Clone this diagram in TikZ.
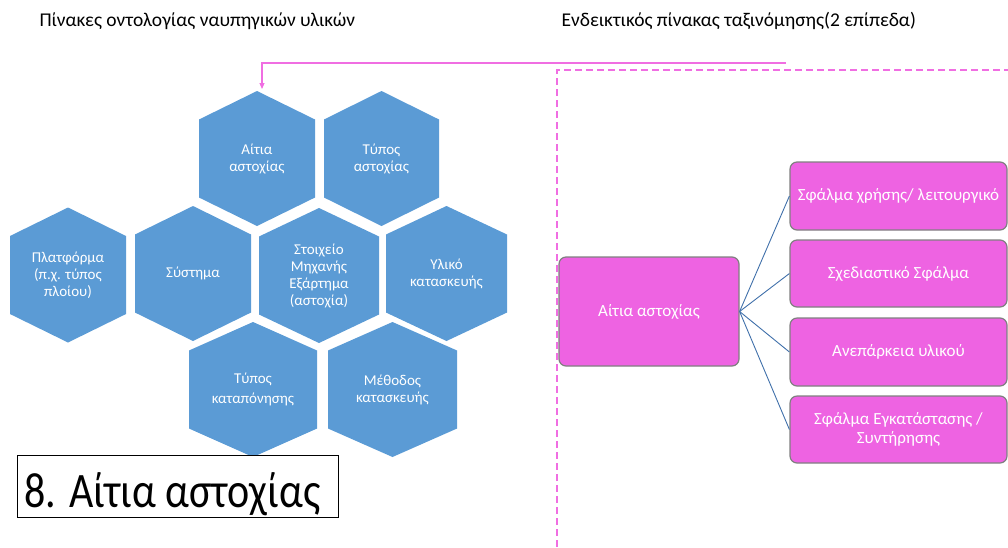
\documentclass[tikz,border=0pt]{standalone}
\usepackage{fontspec}
\setmainfont{Carlito}
\usetikzlibrary{arrows.meta}
\definecolor{hexblue}{RGB}{91,155,213}
\definecolor{boxpink}{RGB}{238,99,226}
\definecolor{linepink}{RGB}{240,110,226}
\definecolor{linkblue}{RGB}{64,112,170}
\tikzset{
  hexfill/.style={fill=hexblue},
  hextext/.style={text=white, align=center, font=\fontsize{15}{17}\selectfont},
  catbox/.style={draw=gray, line width=1.2pt, fill=boxpink, rounded corners=7pt,
    text=white, align=center, font=\fontsize{17}{19.5}\selectfont},
  link/.style={draw=linkblue, line width=0.9pt},
  heading/.style={font=\fontsize{19.5}{22}\selectfont, anchor=west},
}
% #1 name, #2 cx, #3 cy, #4 half width, #5 half height, #6 text
\newcommand\hexcell[6]{%
  \fill[hexfill] (#2-#4,#3-#5*0.578) -- (#2,#3-#5) -- (#2+#4,#3-#5*0.578)
    -- (#2+#4,#3+#5*0.578) -- (#2,#3+#5) -- (#2-#4,#3+#5*0.578) -- cycle;
  \node[hextext] (#1) at (#2,#3) {#6};}
\begin{document}
\begin{tikzpicture}[x=1pt,y=-1pt]
\useasboundingbox (0,0) rectangle (1008,547);

% headings
\node[heading] (hleft) at (36,21) {Πίνακες οντολογίας ναυπηγικών υλικών};
\node[heading] (hright) at (558,21) {Ενδεικτικός πίνακας ταξινόμησης(2 επίπεδα)};

% honeycomb of concepts
\hexcell{aitia}{257}{158.5}{58}{67.5}{Αίτια\\αστοχίας}
\hexcell{typosast}{381.5}{158.5}{57.5}{67.5}{Τύπος\\αστοχίας}
\hexcell{platf}{68}{275}{58}{67.5}{Πλατφόρμα\\(π.χ. τύπος\\πλοίου)}
\hexcell{system}{193}{273.5}{58}{67.5}{Σύστημα}
\hexcell{stoix}{319}{275.5}{60}{67.5}{Στοιχείο\\Μηχανής\\Εξάρτημα\\(αστοχία)}
\hexcell{yliko}{446.5}{273.5}{60.5}{67.5}{Υλικό\\κατασκευής}
\hexcell{katap}{253}{389.5}{64}{67.5}{Τύπος\\[3pt]καταπόνησης}
\hexcell{methodos}{392.5}{389.5}{64.5}{67.5}{Μέθοδος\\κατασκευής}

% section label
\node[draw=black, line width=1pt, fill=white, minimum width=321pt, minimum height=62pt,
  anchor=north west, inner sep=0pt] (label) at (17,455) {};
\node[anchor=base west, inner sep=0pt, font=\fontsize{42}{45}\selectfont] (labeltext) at (24.5,507)
  {\scalebox{1}[1.18]{8. Αίτια αστοχίας}};

% dashed frame of the taxonomy
\coordinate (fb) at (557,547);
\coordinate (ft) at (557,70);
\coordinate (fr) at (1008,70);
\draw[linepink, line width=2.2pt, dash pattern=on 7pt off 4pt] (fb) -- (ft) -- (fr);

% taxonomy
\node[catbox, minimum width=180pt, minimum height=109pt] (root) at (649,311.5) {Αίτια αστοχίας};
\node[catbox, minimum width=217pt, minimum height=68pt] (c1) at (898.5,196) {Σφάλμα χρήσης/ λειτουργικό};
\node[catbox, minimum width=217pt, minimum height=67pt] (c2) at (898.5,273.5) {Σχεδιαστικό Σφάλμα};
\node[catbox, minimum width=217pt, minimum height=68pt] (c3) at (898.5,352) {Ανεπάρκεια υλικού};
\node[catbox, minimum width=217pt, minimum height=67pt] (c4) at (898.5,429.5) {Σφάλμα Εγκατάστασης /\\Συντήρησης};
\foreach \c in {c1,c2,c3,c4} \draw[link] (root.east) -- (\c.west);

% link back to the honeycomb
\coordinate (lstart) at (786,63);
\coordinate (lcorner) at (262,63);
\draw[linepink, line width=1.1pt, -{Triangle[length=6pt,width=5pt]}] (lstart) -- (lcorner) -- (262,89);
\end{tikzpicture}
\end{document}
